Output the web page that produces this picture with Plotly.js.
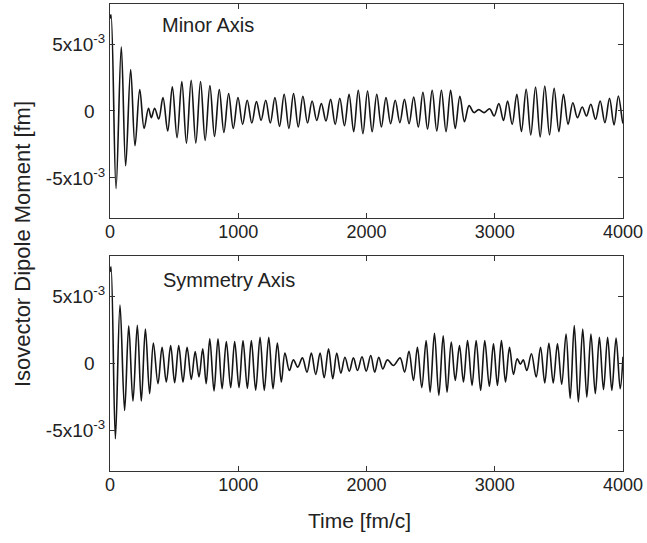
<!DOCTYPE html>
<html>
<head>
<meta charset="utf-8">
<script src="https://cdn.plot.ly/plotly-3.0.1.min.js"></script>
<style>html,body{margin:0;padding:0;background:#fff;}#chart{width:647px;height:543px;}</style>
</head>
<body>
<div id="chart"></div>
<script>
// Time axis ticks [fm/c]
var xTickVals = [0, 1000, 2000, 3000, 4000];
// Dipole moment ticks, in units of 1e-3 fm
var yTickVals = [-5, 0, 5];
var yTickText = ['-5x10<sup>-3</sup>', '0&nbsp;&nbsp;', '5x10<sup>-3</sup>'];

var panelLabels = ['Minor Axis', 'Symmetry Axis'];

// Minor axis: turning points of the oscillation (time [fm/c], moment [1e-3 fm])
var minorT = [0, 8, 47, 88, 122, 161, 195, 232, 266, 300, 322, 348, 380, 413, 450, 486, 523, 560, 596, 633, 669, 706, 742, 779, 815, 852, 888, 925, 961, 998, 1034, 1070, 1106, 1142, 1178, 1214, 1250, 1286, 1322, 1358, 1395, 1431, 1468, 1504, 1540, 1576, 1612, 1648, 1684, 1720, 1756, 1792, 1828, 1864, 1900, 1936, 1972, 2008, 2044, 2080, 2116, 2152, 2188, 2224, 2260, 2296, 2332, 2368, 2404, 2440, 2476, 2512, 2548, 2584, 2620, 2656, 2692, 2728, 2764, 2800, 2838, 2875, 2918, 2960, 2995, 3032, 3068, 3100, 3136, 3172, 3208, 3245, 3281, 3318, 3354, 3390, 3427, 3463, 3500, 3536, 3572, 3609, 3645, 3682, 3715, 3749, 3786, 3822, 3859, 3895, 3930, 3964, 3998, 4000];
var minorV = [6.9, 7.2, -5.8, 4.8, -4.1, 3.1, -2.6, 1.6, -1.3, 0.2, -0.5, 0.2, -0.6, 1.0, -1.5, 1.8, -2.0, 2.2, -2.4, 2.3, -2.4, 2.2, -2.2, 1.9, -1.9, 1.6, -1.6, 1.3, -1.3, 1.0, -1.0, 0.8, -0.9, 0.7, -0.7, 0.8, -0.9, 1.0, -1.15, 1.25, -1.3, 1.3, -1.2, 1.1, -0.9, 0.75, -0.7, 0.55, -0.75, 0.87, -1.0, 0.95, -1.1, 1.25, -1.55, 1.55, -1.7, 1.5, -1.55, 1.25, -1.2, 1.0, -0.95, 0.8, -0.87, 0.87, -0.95, 1.05, -1.2, 1.4, -1.35, 1.55, -1.5, 1.55, -1.55, 1.55, -1.3, 1.1, -0.8, 0.4, -0.12, 0.1, -0.12, 0.17, -0.37, 0.55, -0.7, 0.75, -1.0, 1.24, -1.54, 1.62, -1.79, 1.79, -1.94, 1.87, -1.79, 1.69, -1.54, 1.24, -1.0, 0.62, -0.5, 0.3, -0.37, 0.5, -0.62, 0.75, -0.87, 0.94, -1.04, 1.12, -0.9, -0.85];

// Symmetry axis: turning points of the oscillation (time [fm/c], moment [1e-3 fm])
var symT = [0, 8, 42, 78, 114, 146, 179, 213, 244, 276, 309, 338, 374, 406, 439, 473, 504, 536, 569, 601, 634, 664, 694, 723, 750, 778, 811, 842, 874, 907, 941, 972, 1006, 1037, 1071, 1102, 1136, 1170, 1203, 1238, 1271, 1305, 1336, 1364, 1399, 1430, 1464, 1500, 1536, 1570, 1604, 1638, 1670, 1704, 1737, 1768, 1800, 1832, 1866, 1898, 1930, 1965, 1998, 2033, 2064, 2096, 2127, 2163, 2210, 2262, 2297, 2331, 2366, 2397, 2431, 2465, 2496, 2530, 2564, 2598, 2628, 2661, 2692, 2725, 2756, 2788, 2823, 2855, 2890, 2922, 2958, 2990, 3021, 3052, 3084, 3115, 3146, 3175, 3200, 3222, 3250, 3286, 3323, 3357, 3390, 3422, 3456, 3489, 3522, 3556, 3588, 3620, 3652, 3686, 3718, 3750, 3784, 3816, 3848, 3880, 3913, 3946, 3978, 4000];
var symV = [6.8, 7.2, -5.6, 4.35, -3.5, 2.8, -2.8, 2.85, -2.8, 2.57, -2.25, 1.53, -1.5, 1.21, -1.38, 1.33, -1.43, 1.33, -1.38, 1.21, -1.19, 0.89, -1.0, 1.09, -1.5, 1.83, -2.05, 1.83, -1.88, 1.63, -1.8, 1.63, -1.8, 1.7, -1.85, 1.7, -1.98, 1.95, -2.0, 1.95, -1.88, 1.53, -1.38, 0.77, -0.52, 0.27, -0.27, 0.42, -0.64, 0.77, -0.81, 0.77, -1.06, 1.09, -1.13, 0.77, -0.72, 0.47, -0.57, 0.42, -0.52, 0.5, -0.57, 0.59, -0.64, 0.47, -0.4, 0.27, -0.15, 0.42, -0.64, 0.91, -1.26, 1.21, -1.8, 1.7, -2.13, 2.25, -2.37, 2.07, -2.13, 1.6, -1.26, 1.33, -1.38, 1.7, -1.63, 1.7, -2.0, 1.7, -1.7, 1.46, -1.63, 1.7, -1.38, 1.21, -0.81, 0.35, -0.05, 0.27, -0.52, 0.72, -1.0, 1.21, -1.45, 1.5, -1.45, 1.46, -1.55, 2.2, -2.6, 2.82, -2.87, 2.57, -2.5, 2.2, -2.25, 1.95, -1.95, 1.95, -2.0, 1.9, -1.88, 0.5];

var FONT = 'Liberation Sans, Arial, Helvetica, sans-serif';
var lineStyle = {color: '#151515', width: 1.6, shape: 'spline', smoothing: 1};

var traces = [
  {x: minorT, y: minorV, type: 'scatter', mode: 'lines', line: lineStyle, xaxis: 'x', yaxis: 'y', hoverinfo: 'skip'},
  {x: symT, y: symV, type: 'scatter', mode: 'lines', line: lineStyle, xaxis: 'x2', yaxis: 'y2', hoverinfo: 'skip'}
];

function xAx(anchor) {
  return {
    anchor: anchor, domain: [0, 1], range: [0, 4000],
    tickmode: 'array', tickvals: xTickVals, ticktext: xTickVals.map(String),
    ticks: 'inside', ticklen: 5, tickwidth: 1, tickcolor: '#333',
    mirror: 'allticks', showline: true, linecolor: '#333', linewidth: 1,
    showgrid: false, zeroline: false, ticklabelstandoff: -3,
    tickfont: {family: FONT, size: 18, color: '#222'}
  };
}
function yAx(anchor, dom) {
  return {
    anchor: anchor, domain: dom, range: [-8, 8],
    tickmode: 'array', tickvals: yTickVals, ticktext: yTickText,
    ticks: 'inside', ticklen: 5, tickwidth: 1, tickcolor: '#333',
    mirror: 'allticks', showline: true, linecolor: '#333', linewidth: 1,
    showgrid: false, zeroline: false,
    tickfont: {family: FONT, size: 19, color: '#222'}
  };
}

var layout = {
  width: 647, height: 543,
  margin: {l: 110, r: 24, t: 4, b: 72, pad: 0},
  paper_bgcolor: '#fff', plot_bgcolor: '#fff',
  showlegend: false,
  font: {family: FONT, size: 18, color: '#222'},
  xaxis: xAx('y'),
  yaxis: yAx('x', [0.5418, 1]),
  xaxis2: xAx('y2'),
  yaxis2: yAx('x2', [0, 0.4604]),
  annotations: [
    {text: panelLabels[0], xref: 'paper', yref: 'paper', x: 0.097, y: 0.955, xanchor: 'left', yanchor: 'middle', showarrow: false, font: {family: FONT, size: 20, color: '#222'}},
    {text: panelLabels[1], xref: 'paper', yref: 'paper', x: 0.099, y: 0.409, xanchor: 'left', yanchor: 'middle', showarrow: false, font: {family: FONT, size: 20, color: '#222'}},
    {text: 'Isovector Dipole Moment [fm]', xref: 'paper', yref: 'paper', x: -0.1715, y: 0.486, xanchor: 'center', yanchor: 'middle', textangle: -90, showarrow: false, font: {family: FONT, size: 22, color: '#222'}},
    {text: 'Time [fm/c]', xref: 'paper', yref: 'paper', x: 0.487, y: -0.107, xanchor: 'center', yanchor: 'middle', showarrow: false, font: {family: FONT, size: 21, color: '#222'}}
  ]
};

Plotly.newPlot('chart', traces, layout, {displayModeBar: false, staticPlot: true});
</script>
</body>
</html>
